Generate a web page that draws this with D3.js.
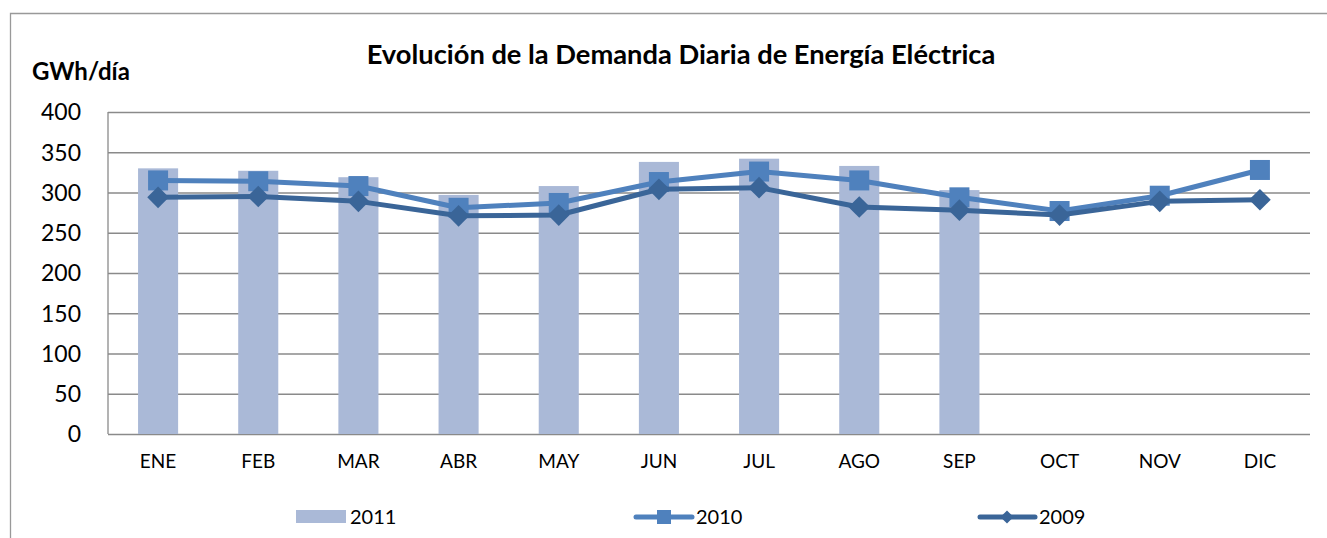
<!DOCTYPE html>
<html>
<head>
<meta charset="utf-8">
<script src="https://cdn.jsdelivr.net/npm/d3@7"></script>
<style>
  body { margin: 0; background: #fff; }
  svg text { font-family: Lato, "Open Sans", sans-serif; fill: #000; }
</style>
</head>
<body>
<div id="chart"></div>
<script>
// months and series (GWh/dia)
var months = ["ENE","FEB","MAR","ABR","MAY","JUN","JUL","AGO","SEP","OCT","NOV","DIC"];
var values2011 = [330, 327, 319, 297, 308, 338, 342, 333, 303];
var values2010 = [315, 314, 308, 281, 287, 313, 326, 315, 294, 277, 296, 328];
var values2009 = [294, 295, 289, 271, 272, 304, 306, 282, 278, 272, 289, 291];
var yTicks = [0, 50, 100, 150, 200, 250, 300, 350, 400];

(function(){
  var W = 1327, H = 538;
  var margin = {top: 112, right: 17, bottom: 104, left: 108},
      width = W - margin.left - margin.right,
      height = H - margin.top - margin.bottom;

  var c2011 = "#aab9d7", c2010 = "#4f81bd", c2009 = "#3a6598", grid = "#8a8a8a";

  var svg = d3.select("#chart").append("svg")
      .attr("width", W)
      .attr("height", H);

  // outer frame (only left and top edges show)
  svg.append("path")
      .attr("d", "M10.5," + H + "V13.5H" + W)
      .attr("fill", "none")
      .attr("stroke", "#999")
      .attr("stroke-width", 1.3);

  var x = d3.scaleBand().domain(months).range([0, width]).paddingInner(0.6).paddingOuter(0.3);
  var y = d3.scaleLinear().domain([0, 400]).range([height, 0]);

  var g = svg.append("g")
      .attr("transform", "translate(" + margin.left + "," + margin.top + ")");

  // gridlines + y labels
  var yAxis = g.append("g")
      .call(d3.axisLeft(y).tickValues(yTicks).tickSize(-width).tickPadding(27));
  yAxis.select(".domain").remove();
  yAxis.selectAll("line").attr("stroke", grid).attr("stroke-width", 1.3);
  yAxis.selectAll("text").attr("font-size", 23).attr("dy", "0.34em");

  g.append("line")
      .attr("x1", 0).attr("x2", 0).attr("y1", 0).attr("y2", height)
      .attr("stroke", grid).attr("stroke-width", 1.3);

  // x labels
  var xAxis = g.append("g")
      .attr("transform", "translate(0," + height + ")")
      .call(d3.axisBottom(x).tickSize(0).tickPadding(21));
  xAxis.select(".domain").remove();
  xAxis.selectAll("text").attr("font-size", 19);

  // 2011 bars
  g.selectAll(".bar")
      .data(values2011)
    .enter().append("rect")
      .attr("class", "bar")
      .attr("x", function(d, i) { return x(months[i]); })
      .attr("width", x.bandwidth())
      .attr("y", function(d) { return y(d); })
      .attr("height", function(d) { return height - y(d); })
      .attr("fill", c2011);

  var cx = function(d, i) { return x(months[i]) + x.bandwidth() / 2; };
  var line = d3.line().x(cx).y(function(d) { return y(d); });

  // 2010 line with squares
  g.append("path")
      .attr("d", line(values2010))
      .attr("fill", "none")
      .attr("stroke", c2010)
      .attr("stroke-width", 5)
      .attr("stroke-linejoin", "round");
  g.selectAll(".sq")
      .data(values2010)
    .enter().append("rect")
      .attr("class", "sq")
      .attr("x", function(d, i) { return cx(d, i) - 10; })
      .attr("y", function(d) { return y(d) - 10; })
      .attr("width", 20).attr("height", 20)
      .attr("fill", c2010);

  // 2009 line with diamonds
  g.append("path")
      .attr("d", line(values2009))
      .attr("fill", "none")
      .attr("stroke", c2009)
      .attr("stroke-width", 5)
      .attr("stroke-linejoin", "round");
  var diamond = d3.symbol().type(d3.symbolDiamond2).size(300);
  g.selectAll(".dm")
      .data(values2009)
    .enter().append("path")
      .attr("class", "dm")
      .attr("d", diamond)
      .attr("transform", function(d, i) { return "translate(" + cx(d, i) + "," + y(d) + ")"; })
      .attr("fill", c2009);

  // title and unit label, fitted to their width in the picture
  function fit(sel, target) {
    var w = sel.node().getComputedTextLength();
    var fs = +sel.attr("font-size");
    sel.attr("font-size", fs * target / w);
  }
  var title = svg.append("text")
      .attr("x", 681).attr("y", 64)
      .attr("text-anchor", "middle")
      .attr("font-weight", "bold")
      .attr("font-size", 24)
      .text("Evolución de la Demanda Diaria de Energía Eléctrica");
  fit(title, 629);

  var unit = svg.append("text")
      .attr("x", 32).attr("y", 80)
      .attr("font-weight", "bold")
      .attr("font-size", 20)
      .text("GWh/día");
  fit(unit, 98);

  // legend
  var ly = 517;
  var leg = svg.append("g").attr("font-size", 20);

  leg.append("rect").attr("x", 296).attr("y", ly - 7).attr("width", 50).attr("height", 13).attr("fill", c2011);
  leg.append("text").attr("x", 350).attr("y", ly + 7).text("2011");

  leg.append("line").attr("x1", 636).attr("x2", 692).attr("y1", ly).attr("y2", ly)
      .attr("stroke", c2010).attr("stroke-width", 5).attr("stroke-linecap", "round");
  leg.append("rect").attr("x", 657).attr("y", ly - 7).attr("width", 14).attr("height", 14).attr("fill", c2010);
  leg.append("text").attr("x", 696).attr("y", ly + 7).text("2010");

  leg.append("line").attr("x1", 980).attr("x2", 1035).attr("y1", ly).attr("y2", ly)
      .attr("stroke", c2009).attr("stroke-width", 5).attr("stroke-linecap", "round");
  leg.append("path").attr("d", d3.symbol().type(d3.symbolDiamond2).size(110))
      .attr("transform", "translate(1007," + ly + ")").attr("fill", c2009);
  leg.append("text").attr("x", 1039).attr("y", ly + 7).text("2009");
})();
</script>
</body>
</html>
